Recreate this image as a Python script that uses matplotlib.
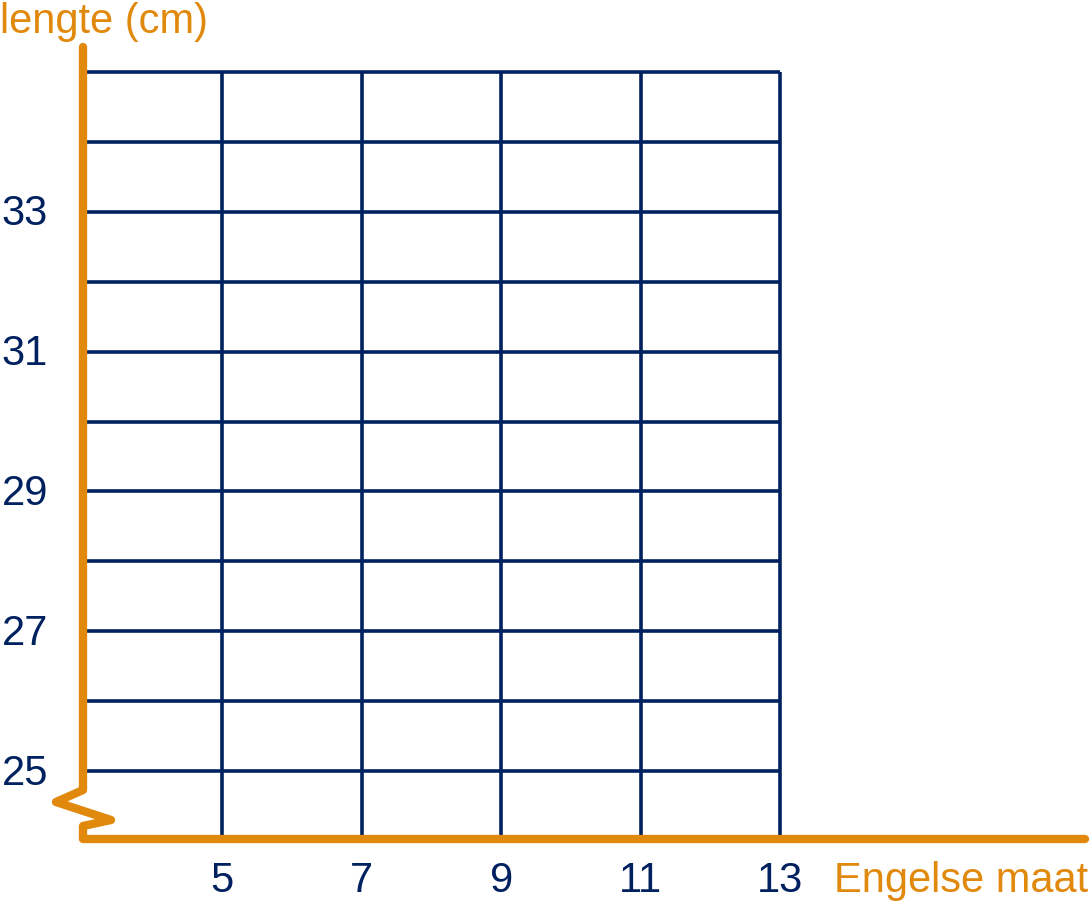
import matplotlib
matplotlib.use("Agg")
import matplotlib.pyplot as plt
import numpy as np

plt.rcParams['font.family'] = ['Liberation Sans', 'DejaVu Sans']

# Data
x_grid = [5, 7, 9, 11, 13]
x_labels = ['5', '7', '9', '11', '13']
y_grid = [25, 26, 27, 28, 29, 30, 31, 32, 33, 34, 35]
y_tick_vals = [25, 27, 29, 31, 33]
y_labels = ['25', '27', '29', '31', '33']
x_title = 'Engelse maat'
y_title = 'lengte (cm)'

NAVY = '#00215f'
ORANGE = '#e0890c'

W, H = 1091, 905
fig = plt.figure(figsize=(W / 100, H / 100), dpi=100)
ax = fig.add_axes([0, 0, 1, 1])

# pixel mapping: x=3 -> px 83, x=13 -> px 780 ; y=35 -> px 72, y=25 -> px 771
sx = (780 - 83) / 10.0
sy = (771 - 72) / 10.0
x0 = 3 - 83 / sx
x1 = 3 + (W - 83) / sx
y1 = 35 + 72 / sy
y0 = 25 - (H - 771) / sy
ax.set_xlim(x0, x1)
ax.set_ylim(y0, y1)
ax.axis('off')


def px2x(p):
    return 3 + (p - 83) / sx


def px2y(p):
    return 25 - (p - 771) / sy


xmin = 3
ybase = px2y(839)
xmax_axis = px2x(1085)
ytop_axis = px2y(47)

# grid
ax.hlines(y_grid, xmin, max(x_grid), color=NAVY, lw=2.6, zorder=1)
ax.vlines(x_grid, ybase, max(y_grid), color=NAVY, lw=2.6, zorder=1)

# axes with zigzag break
yx = [ytop_axis, px2y(790), px2y(802), px2y(820), px2y(826), ybase, ybase]
xx = [xmin, xmin, px2x(56), px2x(111), xmin, xmin, xmax_axis]
ax.plot(xx, yx, color=ORANGE, lw=6, solid_capstyle='round',
        solid_joinstyle='round', zorder=3)

fs = 30
dy = 2.5 / sy
for v, lab in zip(x_grid, x_labels):
    ax.text(v, px2y(881), lab, color=NAVY, fontsize=fs, ha='center', va='center')
for v, lab in zip(y_tick_vals, y_labels):
    ax.text(px2x(48), v - dy, lab, color=NAVY, fontsize=fs, ha='right', va='center')

ax.text(px2x(834), px2y(881), x_title, color=ORANGE, fontsize=fs, ha='left', va='center')
ax.text(px2x(0), px2y(22), y_title, color=ORANGE, fontsize=fs, ha='left', va='center')

fig.savefig('out.png', dpi=100)
